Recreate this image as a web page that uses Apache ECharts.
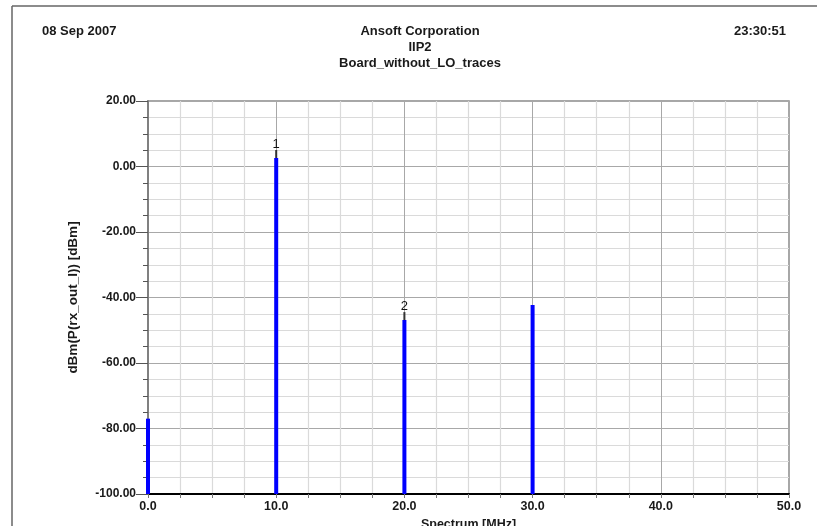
<!DOCTYPE html>
<html>
<head>
<meta charset="utf-8">
<script src="https://cdn.jsdelivr.net/npm/echarts@6/dist/echarts.min.js"></script>
<style>
  html, body { margin: 0; padding: 0; background: #fff; }
  #chart { width: 817px; height: 526px; }
</style>
</head>
<body>
<div id="chart"></div>
<script>
// spectrum lines (MHz) and their levels (dBm)
const freqs = [0.0, 10.0, 20.0, 30.0];
const levels = [-77.0, 2.6, -46.9, -42.3];
const markerNames = ['', '1', '2', ''];

const headerLeft = '08 Sep 2007';
const headerRight = '23:30:51';
const titleLines = ['Ansoft Corporation', 'IIP2', 'Board_without_LO_traces'];

const font = 'Liberation Sans, Arial, sans-serif';
let chart = echarts.init(document.getElementById('chart'));

const lineData = freqs.map((f, i) => [f, levels[i]]);

// header texts share one style
const headStyle = { fontSize: 13, fontWeight: 'bold', color: '#1a1a1a', fontFamily: font };

chart.setOption({
  animation: false,
  backgroundColor: '#fff',
  textStyle: { fontFamily: font },
  title: [
    { text: headerLeft, left: 37, top: 20, textStyle: headStyle },
    { text: headerRight, right: 26, top: 20, textStyle: headStyle },
    {
      text: titleLines.join('\n'), left: 415, top: 18, textAlign: 'center',
      textStyle: Object.assign({}, headStyle, { lineHeight: 16 })
    }
  ],
  graphic: [
    // outer frame of the report
    { type: 'line', shape: { x1: 12, y1: 6, x2: 817, y2: 6 }, style: { stroke: '#666', lineWidth: 1.5 } },
    { type: 'line', shape: { x1: 12, y1: 6, x2: 12, y2: 526 }, style: { stroke: '#666', lineWidth: 1.5 } }
  ],
  grid: {
    left: 148, right: 28, top: 101, bottom: 32,
    outerBoundsMode: 'none', containLabel: false,
    show: true, borderColor: '#8a8a8a', borderWidth: 1.5
  },
  xAxis: {
    type: 'value', min: 0, max: 50, interval: 10,
    name: 'Spectrum [MHz]', nameLocation: 'middle', nameGap: 20,
    nameTextStyle: { fontSize: 12.5, fontWeight: 'bold', color: '#1a1a1a', fontFamily: font },
    axisLine: { onZero: false, lineStyle: { color: '#000', width: 2 } },
    axisTick: { show: true, length: 4, lineStyle: { color: '#777' } },
    minorTick: { show: true, splitNumber: 4, length: 4, lineStyle: { color: '#777' } },
    axisLabel: { formatter: v => v.toFixed(1), fontSize: 12.5, fontWeight: 'bold', color: '#1a1a1a', margin: 6 },
    splitLine: { show: true, lineStyle: { color: '#a8a8a8', width: 1 } },
    minorSplitLine: { show: true, lineStyle: { color: '#dadada', width: 1.2 } }
  },
  yAxis: {
    type: 'value', min: -100, max: 20, interval: 20,
    name: 'dBm(P(rx_out_I)) [dBm]', nameLocation: 'middle', nameGap: 68, nameRotate: 90,
    nameTextStyle: { fontSize: 13.5, fontWeight: 'bold', color: '#1a1a1a', fontFamily: font },
    axisLine: { show: true, lineStyle: { color: '#808080', width: 2 } },
    axisTick: { show: true, length: 12, lineStyle: { color: '#555' } },
    minorTick: { show: true, splitNumber: 4, length: 5, lineStyle: { color: '#555' } },
    axisLabel: { formatter: v => v.toFixed(2), fontSize: 12, fontWeight: 'bold', color: '#1a1a1a', margin: 12 },
    splitLine: { show: true, lineStyle: { color: '#a8a8a8', width: 1 } },
    minorSplitLine: { show: true, lineStyle: { color: '#dadada', width: 1.2 } }
  },
  series: [{
    type: 'custom',
    data: lineData,
    encode: { x: 0, y: 1 },
    renderItem: (params, api) => {
      const x = api.value(0);
      const top = api.coord([x, api.value(1)]);
      const base = api.coord([x, -100]);
      const children = [{
        type: 'line',
        shape: { x1: top[0], y1: top[1], x2: base[0], y2: base[1] },
        style: { stroke: '#0000ff', lineWidth: 4 }
      }];
      const name = markerNames[params.dataIndex];
      if (name) {
        // marker stub and its number above the line top
        children.push({
          type: 'line',
          shape: { x1: top[0], y1: top[1] - 8, x2: top[0], y2: top[1] },
          style: { stroke: '#333', lineWidth: 2 }
        });
        children.push({
          type: 'text',
          style: {
            x: top[0], y: top[1] - 7, text: name, align: 'center', verticalAlign: 'bottom',
            fontSize: 13, fill: '#111', fontFamily: font
          }
        });
      }
      return { type: 'group', children: children };
    }
  }]
});
</script>
</body>
</html>
